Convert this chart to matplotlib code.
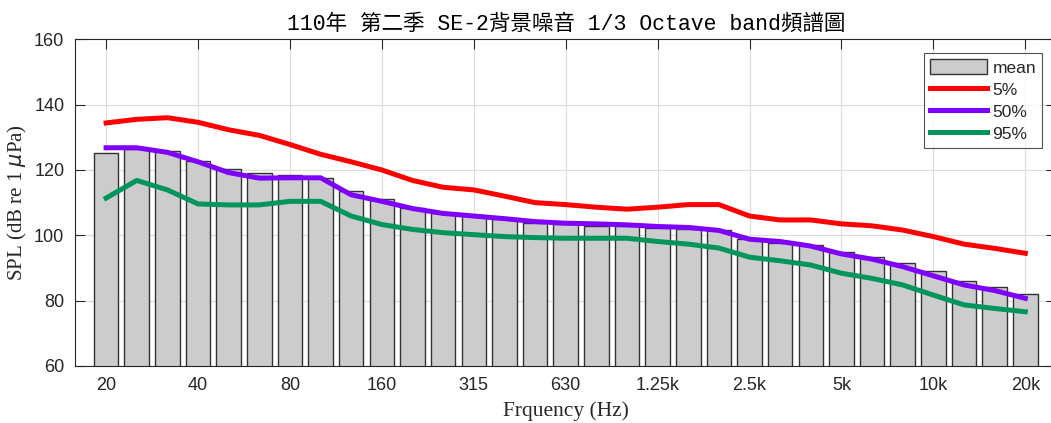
import numpy as np
import matplotlib
matplotlib.use("Agg")
from matplotlib import pyplot as plt

# 1/3 octave bands
bands = ['20', '25', '31.5', '40', '50', '63', '80', '100', '125', '160', '200', '250',
         '315', '400', '500', '630', '800', '1k', '1.25k', '1.6k', '2k', '2.5k', '3.15k',
         '4k', '5k', '6.3k', '8k', '10k', '12.5k', '16k', '20k']

spl_mean = [125.1, 126.3, 125.9, 122.8, 120.2, 119.0, 118.6, 117.6, 113.5, 111.1, 108.5,
            106.9, 106.2, 104.9, 103.9, 103.4, 103.0, 102.7, 102.1, 101.8, 101.5, 98.8,
            97.6, 97.0, 95.0, 93.3, 91.6, 89.2, 86.1, 84.1, 81.9]
spl_5 = [134.4, 135.5, 136.0, 134.6, 132.3, 130.6, 127.8, 124.8, 122.5, 120.0, 116.8,
         114.7, 113.9, 112.0, 110.0, 109.4, 108.6, 108.0, 108.6, 109.4, 109.4, 105.9,
         104.7, 104.7, 103.5, 102.9, 101.6, 99.6, 97.3, 96.0, 94.5]
spl_50 = [126.8, 126.8, 125.4, 122.5, 119.2, 117.5, 117.6, 117.6, 112.4, 110.4, 108.2,
          106.7, 105.9, 105.1, 104.2, 103.7, 103.5, 103.2, 102.7, 102.4, 101.5, 98.8,
          98.1, 96.7, 94.3, 92.7, 90.4, 87.6, 84.8, 83.1, 80.7]
spl_95 = [111.4, 116.8, 113.9, 109.6, 109.3, 109.3, 110.4, 110.4, 105.9, 103.3, 101.8,
          100.8, 100.2, 99.6, 99.3, 99.1, 99.1, 99.1, 98.1, 97.3, 96.1, 93.3, 92.2,
          90.9, 88.4, 86.8, 84.8, 81.7, 78.7, 77.6, 76.6]

x = np.arange(len(bands))
tc = '#262626'

fig = plt.figure(figsize=(10.51, 4.23), dpi=100)
# axes runs slightly past the right edge (the original screenshot is cropped)
ax = fig.add_axes([0.0718, 0.1348, 0.9329, 0.7723])

hb = ax.bar(x, spl_mean, width=0.8, color='#cccccc', edgecolor='#333333', linewidth=1.0,
            label='mean', zorder=2)
h5, = ax.plot(x, spl_5, color='#ff0000', lw=3.6, label='5%', zorder=3)
h50, = ax.plot(x, spl_50, color='#8000ff', lw=3.6, label='50%', zorder=3)
h95, = ax.plot(x, spl_95, color='#00955a', lw=3.6, label='95%', zorder=3)

ax.set_xlim(-1, 31)
ax.set_ylim(60, 160)
ax.set_yticks([60, 80, 100, 120, 140, 160])
ax.set_xticks(x[::3])
ax.set_xticklabels(bands[::3])
ax.tick_params(direction='in', length=7, width=0.8, colors=tc, labelsize=13,
               top=True, right=True, pad=8)
for lab in ax.get_xticklabels() + ax.get_yticklabels():
    lab.set_family('Liberation Sans')
for s in ax.spines.values():
    s.set_color(tc)
    s.set_linewidth(0.8)
ax.grid(True, color='#dcdcdc', linewidth=0.8, zorder=0)
ax.set_axisbelow(True)

ax.set_xlabel('Frquency (Hz)', fontsize=15.5, family='Liberation Serif', color=tc, labelpad=5)
ax.set_ylabel(r'SPL (dB re 1 $\mu$Pa)', fontsize=15, family='Liberation Serif', color=tc,
              labelpad=4)
ax.set_title('110年 第二季 SE-2背景噪音 1/3 Octave band頻譜圖', fontsize=15.5,
             family=['Liberation Mono', 'Noto Sans CJK TC'], color='black', pad=7)

leg = ax.legend([hb, h5, h50, h95], ['mean', '5%', '50%', '95%'], loc='upper right',
                fontsize=12.5, handlelength=3.3, handleheight=0.95,
                frameon=True, fancybox=False, edgecolor=tc, borderpad=0.35,
                labelspacing=0.32, handletextpad=0.3, borderaxespad=0.8)
leg.get_frame().set_linewidth(0.8)
for t in leg.get_texts():
    t.set_family('Liberation Sans')
    t.set_color(tc)

plt.savefig('out.png', dpi=100)
